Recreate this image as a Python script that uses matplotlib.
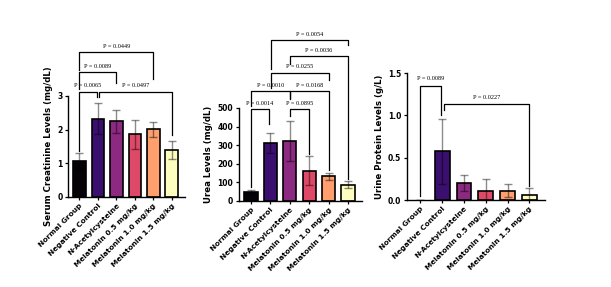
import numpy as np
import matplotlib.pyplot as plt
from matplotlib import cm

# -----------------------------
# data
# -----------------------------
groups = ["Normal Group", "Negative Control", "N-Acetylcysteine",
          "Melatonin 0.5 mg/kg", "Melatonin 1.0 mg/kg", "Melatonin 1.5 mg/kg"]

creat_mean = [1.07, 2.33, 2.25, 1.86, 2.01, 1.40]
creat_sd = [0.25, 0.47, 0.34, 0.43, 0.22, 0.27]

urea_mean = [48, 312, 322, 162, 133, 88]
urea_sd = [9, 54, 108, 78, 18, 18]

prot_mean = [0.0, 0.575, 0.20, 0.11, 0.11, 0.055]
prot_sd = [0.0, 0.38, 0.09, 0.14, 0.08, 0.085]

# (left group, right group, bracket height, left leg end, right leg end, label)
creat_pvals = [
    (0, 1, 3.12, 1.38, 2.98, "P = 0.0065"),
    (1, 5, 3.12, 2.98, 1.85, "P = 0.0497"),
    (0, 2, 3.70, 3.22, 3.38, "P = 0.0089"),
    (0, 4, 4.30, 3.78, 3.50, "P = 0.0449"),
]
urea_pvals = [
    (0, 1, 495, 75, 415, "P = 0.0014"),
    (2, 3, 495, 455, 255, "P = 0.0895"),
    (0, 2, 590, 510, 550, "P = 0.0010"),
    (2, 4, 590, 555, 165, "P = 0.0168"),
    (1, 4, 690, 605, 650, "P = 0.0255"),
    (2, 5, 778, 735, 118, "P = 0.0036"),
    (1, 5, 864, 710, 838, "P = 0.0054"),
]
prot_pvals = [
    (0, 1, 1.35, 0.05, 1.00, "P = 0.0089"),
    (1, 5, 1.13, 1.06, 0.17, "P = 0.0227"),
]

colors = [cm.magma(v) for v in [0.0, 0.2, 0.4, 0.6, 0.8, 1.0]]
colors[0] = "#050308"

fig = plt.figure(figsize=(6.11, 2.87), dpi=100)
fig.patch.set_facecolor("white")

panels = [
    ([0.1113, 0.3136, 0.1915, 0.352], creat_mean, creat_sd, creat_pvals,
     "Serum Creatinine Levels (mg/dL)", [0, 1, 2, 3], ["0", "1", "2", "3"], 3),
    ([0.391, 0.2997, 0.2013, 0.324], urea_mean, urea_sd, urea_pvals,
     "Urea Levels (mg/dL)", [0, 100, 200, 300, 400, 500],
     ["0", "100", "200", "300", "400", "500"], 500),
    ([0.666, 0.3031, 0.2259, 0.4425], prot_mean, prot_sd, prot_pvals,
     "Urine Protein Levels (g/L)", [0, 0.5, 1.0, 1.5],
     ["0.0", "0.5", "1.0", "1.5"], 1.5),
]

x = np.arange(len(groups))

for rect, mean, sd, pvals, ylabel, yt, ytl, ymax in panels:
    ax = fig.add_axes(rect)
    # zero-height bars get no outline
    lws = [1.2 if m > 0 else 0 for m in mean]
    ax.bar(x, mean, width=0.68, color=colors, edgecolor="black", linewidth=lws, zorder=2)
    ax.errorbar(x, mean, yerr=sd, fmt="none", ecolor="black", alpha=0.45,
                elinewidth=1.0, capsize=3, capthick=1.0, zorder=3)

    ax.set_xlim(-0.62, 5.72)
    ax.set_ylim(0, ymax)
    ax.set_yticks(yt)
    ax.set_yticklabels(ytl, fontsize=5.5, fontweight="bold")
    ax.set_xticks(x)
    ax.set_xticklabels(groups, rotation=45, ha="right", rotation_mode="anchor",
                       fontsize=5.3, fontweight="bold")
    ax.set_ylabel(ylabel, fontsize=6.2, fontweight="bold", labelpad=3)

    ax.spines["top"].set_visible(False)
    ax.spines["right"].set_visible(False)
    ax.spines["left"].set_linewidth(1.0)
    ax.spines["bottom"].set_linewidth(1.0)
    ax.tick_params(axis="both", length=2.5, width=0.9, pad=1.5)

    # significance brackets
    for g1, g2, h, l1, l2, label in pvals:
        xl = g1 + 0.06 if g1 == 1 else g1
        xr = g2 - 0.06 if g2 == 1 else g2
        ax.plot([xl, xl, xr, xr], [l1, h, h, l2], color="black", linewidth=0.9,
                clip_on=False, zorder=4)
        ax.text((xl + xr) / 2, h + ymax * 0.035, label, ha="center", va="bottom",
                fontsize=4.5, family="Liberation Serif", clip_on=False)

plt.savefig("out.png", dpi=100)
plt.close()
